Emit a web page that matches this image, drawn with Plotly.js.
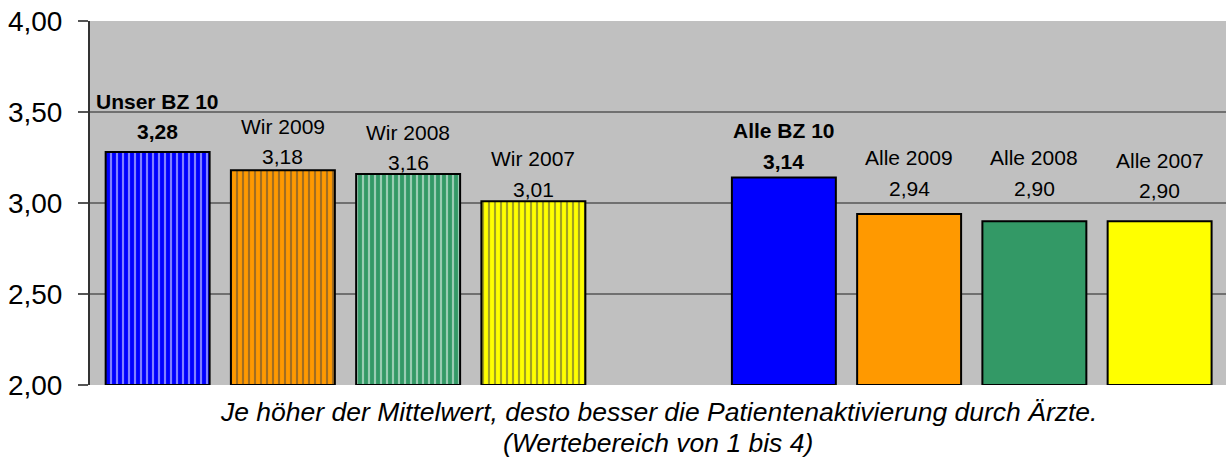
<!DOCTYPE html>
<html>
<head>
<meta charset="utf-8">
<script src="https://cdn.plot.ly/plotly-3.0.1.min.js"></script>
<style>html,body{margin:0;padding:0;background:#fff;}#chart{width:1226px;height:462px;}</style>
</head>
<body>
<div id="chart"></div>
<script>
// Data
const categories = ["Unser BZ 10", "Wir 2009", "Wir 2008", "Wir 2007", " ", "Alle BZ 10", "Alle 2009", "Alle 2008", "Alle 2007"];
const values = [3.28, 3.18, 3.16, 3.01, null, 3.14, 2.94, 2.90, 2.90];
const barColors = ["#0000FF", "#FF9900", "#339966", "#FFFF00", "#FFFFFF", "#0000FF", "#FF9900", "#339966", "#FFFF00"];
const boldLabel = [true, false, false, false, false, true, false, false, false];
const striped = [true, true, true, true, false, false, false, false, false];
const yTickVals = [2.0, 2.5, 3.0, 3.5, 4.0];
const yTickText = ["2,00", "2,50", "3,00", "3,50", "4,00"];
const captionLines = ["Je höher der Mittelwert, desto besser die Patientenaktivierung durch Ärzte.", "(Wertebereich von 1 bis 4)"];

// label offsets above bar top (pixels): [name, value]
const nameShift = [51, 44, 41, 43, 0, 47, 56, 64, 61];
const valueShift = [21, 14, 11, 12, 0, 16, 25, 33, 31];
const captionY = [-0.074, -0.159];

const fmt = v => v.toFixed(2).replace('.', ',');

const trace = {
  type: 'bar',
  x: categories,
  y: values.map(v => v === null ? null : v - 2),
  base: 2,
  width: 0.83,
  marker: {
    color: barColors,
    line: {color: '#000000', width: 2},
    pattern: {
      shape: striped.map(s => s ? '|' : ''),
      fillmode: 'overlay',
      fgcolor: '#000000',
      size: 6,
      solidity: 0.36
    }
  },
  hoverinfo: 'skip'
};

const annotations = [];
categories.forEach((c, i) => {
  if (values[i] === null) return;
  const f = {family: 'Liberation Sans, Arial, sans-serif', size: 21, color: '#000'};
  annotations.push({
    x: c, y: values[i], xref: 'x', yref: 'y', yanchor: 'middle', xanchor: 'center',
    yshift: nameShift[i], showarrow: false,
    text: boldLabel[i] ? '<b>' + c + '</b>' : c, font: f
  });
  annotations.push({
    x: c, y: values[i], xref: 'x', yref: 'y', yanchor: 'middle', xanchor: 'center',
    yshift: valueShift[i], showarrow: false,
    text: boldLabel[i] ? '<b>' + fmt(values[i]) + '</b>' : fmt(values[i]), font: f
  });
});
captionLines.forEach((line, i) => {
  annotations.push({
    x: 0.5, y: captionY[i], xref: 'paper', yref: 'paper', xanchor: 'center', yanchor: 'middle',
    showarrow: false,
    text: '<i>' + line + '</i>',
    font: {family: 'Liberation Sans, Arial, sans-serif', size: 26.5, color: '#000'}
  });
});

const layout = {
  width: 1226, height: 462,
  margin: {l: 90, r: 0, t: 21, b: 77},
  paper_bgcolor: '#FFFFFF',
  plot_bgcolor: '#C0C0C0',
  showlegend: false,
  xaxis: {
    type: 'category',
    range: [-0.54, 8.53],
    showticklabels: false,
    ticks: '',
    showgrid: false,
    zeroline: false,
    showline: false,
    fixedrange: true
  },
  yaxis: {
    range: [2, 4],
    tickvals: yTickVals,
    ticktext: yTickText,
    ticks: 'outside',
    ticklen: 10,
    tickwidth: 2,
    tickcolor: '#555555',
    ticklabelstandoff: 10,
    showline: true,
    linecolor: '#333333',
    linewidth: 2,
    showgrid: true,
    gridcolor: '#707070',
    gridwidth: 2,
    zeroline: false,
    tickfont: {family: 'Liberation Sans, Arial, sans-serif', size: 28, color: '#000'},
    fixedrange: true
  },
  annotations: annotations,
  bargap: 0
};

Plotly.newPlot('chart', [trace], layout, {displayModeBar: false, staticPlot: true});
</script>
</body>
</html>
